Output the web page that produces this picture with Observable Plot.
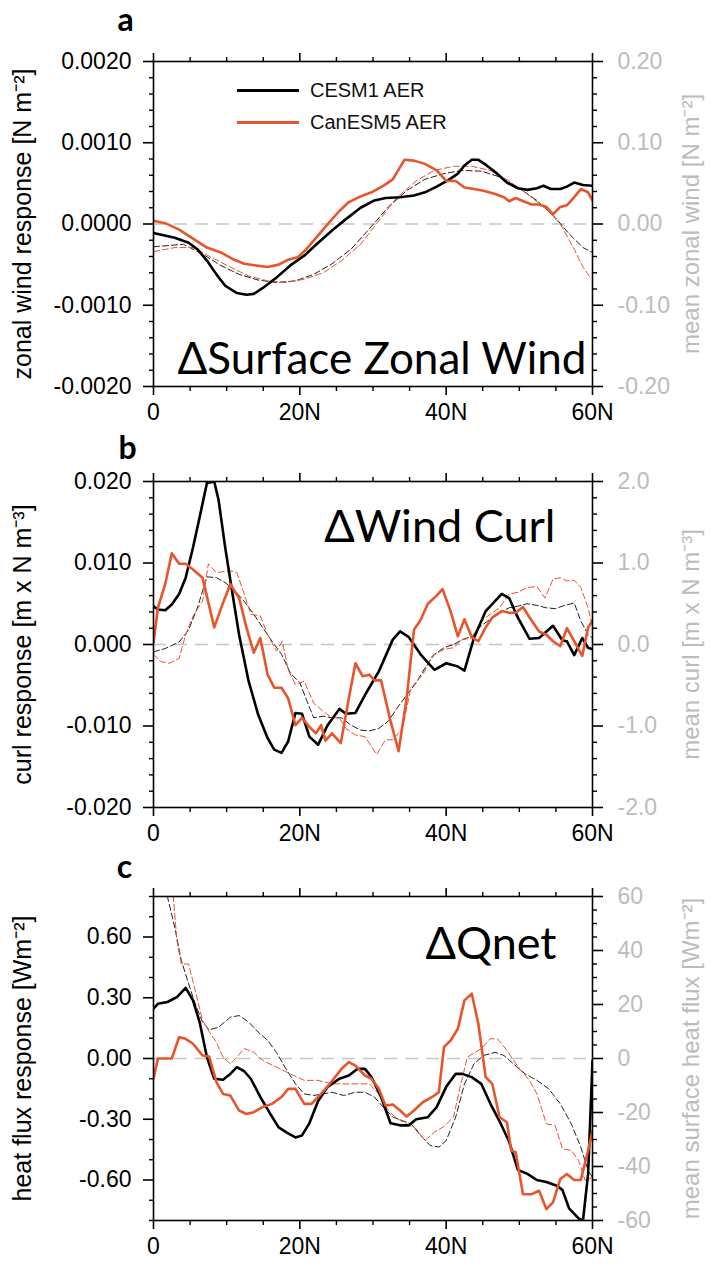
<!DOCTYPE html>
<html><head><meta charset="utf-8">
<script src="https://cdn.jsdelivr.net/npm/d3@7"></script>
<script src="https://cdn.jsdelivr.net/npm/@observablehq/plot@0.6"></script>
<style>
body{margin:0;background:#fff;}
#wrap{position:relative;width:718px;height:1267px;overflow:hidden;background:#fff;}
.panel{position:absolute;left:0;}
.leg{position:absolute;left:237px;font-family:"Liberation Sans",Arial,sans-serif;font-size:20px;color:#111;display:flex;align-items:center;}
.leg span.sw{display:inline-block;width:62px;height:3px;margin-right:11px;}
</style></head><body><div id="wrap"></div>
<script>
// ---------- Data (latitude in degrees N, value) ----------
// Panel a: zonal wind response [N m-2] (left axis) and mean zonal wind [N m-2] (right axis)
const windRespCESM = [[0,-0.00011],[2.9,-0.00017],[4.8,-0.00023],[6.0,-0.00031],[7.3,-0.00045],[8.6,-0.00062],[9.8,-0.00076],[11.4,-0.00085],[12.7,-0.00087],[13.7,-0.00086],[14.9,-0.00079],[16.8,-0.00066],[18.7,-0.00051],[20.6,-0.00039],[22.5,-0.00023],[24.4,-0.00008],[26.3,0.00006],[28.3,0.0002],[30.2,0.00029],[31.7,0.00032],[33.7,0.00033],[35.6,0.00035],[37.1,0.00039],[38.7,0.00046],[40.3,0.00054],[41.6,0.00062],[42.5,0.00072],[43.5,0.00079],[44.4,0.00079],[45.4,0.00073],[46.7,0.00064],[48.3,0.00051],[49.8,0.00044],[51.1,0.00042],[52.4,0.00044],[53.3,0.00047],[54.3,0.00043],[55.6,0.00043],[56.5,0.00046],[57.5,0.00051],[58.7,0.00048],[60,0.00047]];
const windRespCan = [[0,0.00004],[1.6,0.00001],[3.5,-0.00007],[5.4,-0.00018],[7.3,-0.00029],[9.2,-0.00035],[10.8,-0.00043],[12.4,-0.00049],[14.0,-0.00051],[15.6,-0.00053],[17.1,-0.0005],[18.4,-0.00044],[19.7,-0.00041],[20.9,-0.00031],[22.5,-0.00014],[24.1,0.00003],[25.4,0.00016],[26.7,0.00027],[28.3,0.00034],[29.8,0.00039],[31.4,0.00047],[32.7,0.00055],[34.3,0.00079],[35.6,0.00078],[37.1,0.00074],[38.7,0.00066],[40.0,0.00053],[41.3,0.00053],[42.5,0.00045],[43.8,0.00043],[45.1,0.00041],[46.7,0.00037],[47.9,0.00033],[48.6,0.00028],[49.5,0.00032],[50.8,0.00027],[51.7,0.00024],[52.7,0.00024],[53.7,0.00021],[54.6,0.00012],[55.6,0.00021],[56.5,0.00023],[57.5,0.00033],[58.4,0.00043],[59.4,0.00039],[60,0.00029]];
const windMeanCESM = [[0,-0.028],[4.1,-0.025],[6.7,-0.037],[9.2,-0.051],[11.7,-0.062],[14.3,-0.069],[16.8,-0.072],[19.4,-0.070],[21.9,-0.062],[24.4,-0.049],[27.0,-0.031],[29.5,-0.006],[32.1,0.021],[34.6,0.041],[37.1,0.055],[39.7,0.062],[42.2,0.066],[44.8,0.065],[47.3,0.058],[49.8,0.045],[52.4,0.029],[54.9,0.008],[56.8,-0.012],[58.7,-0.029],[60,-0.035]];
const windMeanCan = [[0,-0.034],[2.9,-0.029],[5.4,-0.029],[7.9,-0.041],[10.5,-0.053],[13.0,-0.064],[15.6,-0.070],[18.1,-0.072],[20.6,-0.068],[23.2,-0.060],[25.7,-0.045],[28.3,-0.025],[30.8,0.004],[33.3,0.033],[35.9,0.053],[38.4,0.066],[41.0,0.071],[43.5,0.071],[46.0,0.066],[48.6,0.053],[51.1,0.037],[53.7,0.018],[55.6,0.0],[57.5,-0.031],[58.7,-0.053],[59.7,-0.066]];

// Panel b: curl response [m x N m-3] (left) and mean curl (right)
const curlRespCESM = [[0,0.0047],[0.6,0.0043],[1.6,0.0042],[2.5,0.0049],[3.5,0.0062],[4.4,0.0082],[5.4,0.0119],[6.3,0.0156],[7.3,0.0198],[8.3,0.0200],[8.9,0.0177],[9.8,0.0119],[10.8,0.0062],[11.7,0.0012],[13.0,-0.0045],[14.3,-0.0086],[15.6,-0.0115],[16.5,-0.0129],[17.5,-0.0133],[18.4,-0.0119],[19.4,-0.0084],[20.3,-0.0085],[21.3,-0.0113],[22.5,-0.0123],[23.8,-0.0099],[25.4,-0.0079],[26.3,-0.0085],[27.6,-0.0084],[28.9,-0.0062],[30.8,-0.0033],[32.7,0.0006],[33.7,0.0016],[34.9,0.0009],[36.5,-0.0012],[38.4,-0.0031],[40.0,-0.0023],[41.6,-0.0027],[42.5,-0.0032],[43.8,0.0008],[45.4,0.0041],[47.6,0.0062],[48.6,0.0057],[49.8,0.0033],[51.4,0.0007],[52.7,0.0008],[54.6,0.0023],[55.9,0.0005],[56.5,0.0004],[57.5,-0.0013],[58.6,0.0008],[59.4,-0.0004],[60,-0.0006]];
const curlRespCan = [[0,0.0002],[0.6,0.0045],[1.6,0.0074],[2.5,0.0112],[3.5,0.0099],[4.4,0.0099],[5.4,0.0092],[6.7,0.0082],[8.3,0.0021],[9.5,0.0051],[10.5,0.0074],[11.7,0.0057],[12.7,0.0021],[13.7,-0.001],[14.6,0.0008],[15.6,-0.0037],[16.5,-0.0053],[17.5,-0.0053],[18.4,-0.0066],[19.4,-0.0099],[20.3,-0.009],[21.3,-0.0101],[22.2,-0.0109],[22.9,-0.0099],[23.5,-0.0118],[24.4,-0.0109],[25.6,-0.0121],[26.7,-0.0066],[27.6,-0.0023],[28.6,-0.0039],[29.5,-0.0037],[30.2,-0.0044],[31.1,-0.0044],[32.4,-0.0094],[33.5,-0.0131],[34.6,-0.0066],[35.6,0.0018],[36.5,0.003],[37.5,0.005],[38.7,0.006],[39.5,0.0068],[40.6,0.0041],[41.6,0.001],[42.5,0.0031],[43.5,0.0009],[44.4,0.0004],[45.4,0.0021],[46.3,0.0033],[47.6,0.0041],[48.6,0.0039],[49.5,0.0039],[50.5,0.0046],[51.4,0.0033],[52.7,0.0016],[53.7,0.0012],[54.6,0.0004],[55.6,-0.0002],[56.5,0.002],[57.5,0.0004],[58.6,-0.0014],[59.4,0.0021],[60,0.0029]];
const curlMeanCESM = [[0,-0.09],[1.6,-0.05],[3.5,0.03],[4.8,0.18],[6.0,0.45],[7.3,0.83],[8.6,0.82],[9.8,0.76],[11.1,0.66],[12.4,0.53],[13.7,0.37],[14.9,0.21],[16.2,0.04],[17.5,-0.12],[18.7,-0.35],[20.0,-0.47],[21.0,-0.70],[21.9,-0.90],[23.2,-0.88],[24.4,-0.90],[25.7,-0.90],[27.0,-0.99],[28.3,-1.05],[29.5,-1.06],[30.8,-1.03],[32.1,-0.94],[33.3,-0.78],[34.6,-0.62],[35.9,-0.47],[37.1,-0.29],[38.4,-0.12],[39.7,-0.04],[41.0,0.0],[42.2,0.06],[43.5,0.10],[44.8,0.23],[46.0,0.31],[47.3,0.39],[48.6,0.45],[49.8,0.47],[51.1,0.50],[52.4,0.48],[53.7,0.45],[54.9,0.44],[56.2,0.48],[57.5,0.51],[58.4,0.29],[59.4,0.12],[60,0.08]];
const curlMeanCan = [[0,-0.12],[1.0,-0.21],[2.2,-0.23],[3.5,-0.17],[4.4,0.12],[5.4,0.35],[6.7,0.53],[7.5,0.99],[8.6,0.88],[9.8,0.90],[10.8,0.90],[11.4,0.88],[12.4,0.62],[13.3,0.37],[14.6,0.35],[15.6,0.12],[16.8,-0.08],[17.6,0.04],[18.4,-0.31],[19.4,-0.49],[20.6,-0.45],[21.9,-0.72],[23.2,-0.82],[24.4,-0.90],[25.4,-0.90],[26.3,-1.03],[27.6,-1.11],[28.9,-1.13],[30.5,-1.35],[31.7,-1.17],[32.7,-1.17],[34.0,-1.03],[35.2,-0.53],[36.8,-0.37],[38.1,-0.14],[39.7,-0.06],[41.0,-0.04],[42.2,0.06],[43.5,0.08],[44.8,0.29],[46.0,0.37],[47.3,0.45],[48.6,0.62],[49.8,0.64],[51.1,0.70],[52.4,0.71],[53.5,0.57],[54.6,0.80],[55.6,0.82],[56.5,0.78],[57.5,0.79],[58.4,0.70],[59.4,0.45],[60,0.21]];

// Panel c: heat flux response [W m-2] (left) and mean surface heat flux [W m-2] (right)
const qRespCESM = [[0,0.246],[0.6,0.27],[1.9,0.279],[3.2,0.303],[4.4,0.349],[5.4,0.287],[6.3,0.18],[7.3,0.007],[8.3,-0.10],[9.5,-0.105],[10.5,-0.076],[11.4,-0.043],[12.4,-0.063],[13.3,-0.10],[14.6,-0.19],[15.9,-0.27],[17.1,-0.34],[18.4,-0.37],[19.4,-0.39],[20.3,-0.38],[21.3,-0.32],[22.5,-0.21],[23.8,-0.14],[25.4,-0.10],[26.7,-0.084],[27.9,-0.051],[28.9,-0.051],[29.8,-0.092],[31.1,-0.19],[32.4,-0.32],[33.7,-0.33],[34.9,-0.33],[35.9,-0.30],[37.5,-0.29],[38.7,-0.24],[40.0,-0.14],[41.3,-0.076],[42.2,-0.076],[43.5,-0.092],[44.8,-0.125],[46.0,-0.22],[47.3,-0.31],[48.6,-0.41],[49.8,-0.55],[51.1,-0.57],[52.4,-0.60],[53.7,-0.61],[55.2,-0.63],[55.9,-0.65],[56.8,-0.74],[58.1,-0.79],[58.7,-0.80],[59.4,-0.57],[60,-0.01]];
const qRespCan = [[0,-0.10],[0.6,0.0],[1.6,0.0],[2.5,0.0],[3.5,0.105],[4.4,0.097],[5.4,0.073],[6.7,0.015],[7.6,0.01],[8.6,-0.117],[9.5,-0.175],[10.5,-0.183],[11.7,-0.257],[12.7,-0.274],[13.7,-0.265],[14.9,-0.24],[16.2,-0.224],[17.5,-0.19],[18.4,-0.15],[19.4,-0.15],[20.6,-0.224],[21.6,-0.224],[22.9,-0.175],[24.1,-0.125],[25.7,-0.051],[26.7,-0.018],[27.6,-0.035],[28.9,-0.084],[29.8,-0.10],[30.8,-0.15],[31.7,-0.232],[32.7,-0.227],[33.7,-0.257],[34.6,-0.287],[35.6,-0.257],[36.8,-0.216],[38.1,-0.19],[39.0,-0.166],[39.7,0.056],[40.6,0.089],[41.6,0.147],[42.5,0.287],[43.5,0.32],[44.4,0.171],[45.4,-0.092],[46.3,-0.125],[47.3,-0.29],[48.3,-0.315],[48.9,-0.455],[49.5,-0.463],[50.5,-0.67],[51.7,-0.67],[52.7,-0.653],[53.7,-0.744],[54.6,-0.71],[55.6,-0.595],[56.5,-0.57],[57.5,-0.60],[58.4,-0.60],[59.4,-0.455],[60,-0.356]];
const qMeanCESM = [[0,100],[1.9,60],[2.9,48.6],[3.8,36.3],[4.8,27.7],[5.7,20.2],[6.7,13.5],[7.6,10.6],[8.9,11.6],[10.5,15.3],[11.7,15.9],[13.0,13.5],[14.3,9.8],[15.6,6.7],[16.8,2.3],[18.1,-3.8],[19.4,-9.4],[20.6,-13.1],[21.9,-13.7],[23.2,-13.1],[24.4,-12.5],[26.0,-13.7],[27.6,-12.5],[28.9,-12.5],[30.2,-14.3],[31.4,-18.0],[32.7,-21.7],[34.0,-23.0],[35.2,-24.2],[36.5,-28.5],[37.8,-32.2],[39.0,-32.8],[40.0,-30.4],[41.3,-21.7],[42.5,-9.4],[43.8,-2.0],[45.1,1.1],[46.7,2.3],[47.9,1.1],[49.2,-2.0],[50.8,-5.7],[52.4,-8.1],[54.0,-11.2],[55.6,-16.8],[57.1,-24.2],[58.4,-32.8],[59.4,-41.5],[60,-44]];
const qMeanCan = [[0,130],[2.7,60],[3.2,43.7],[3.8,35],[4.8,35],[5.7,25.2],[6.7,14.1],[7.6,10],[8.6,6],[9.5,0.5],[10.5,-2.0],[11.4,0.5],[12.4,3.7],[13.7,2.3],[14.9,-0.7],[16.8,-3.2],[18.7,-5.7],[20.6,-8.1],[22.5,-8.1],[24.4,-9.4],[26.3,-9.4],[28.3,-9.4],[29.5,-9.4],[30.8,-13.1],[32.1,-19.3],[33.3,-22.3],[34.6,-24.2],[35.9,-26.0],[37.1,-30.4],[38.4,-27.3],[39.7,-25.2],[41.0,-21.7],[41.9,-10.6],[42.9,0.5],[43.8,2.0],[44.8,3.6],[46.0,7.3],[47.0,7.3],[48.3,3.0],[49.2,-0.7],[50.2,-4.4],[51.4,-8.1],[52.4,-13.1],[53.7,-24.2],[54.9,-24.8],[55.9,-33.5],[57.1,-34],[58.1,-37.8],[59.0,-45.2],[60,-44]];

// Tick values
const xMajor = [0, 20, 40, 60];
const xMinor = [5, 10, 15, 25, 30, 35, 45, 50, 55];
const legendNames = ["CESM1 AER", "CanESM5 AER"];

const ORANGE = "#e8542c";
const GRAY = "#bcbcbc";
const FONT = "'Liberation Sans', Arial, Helvetica, sans-serif";
const CAL = "Lato, 'Open Sans', sans-serif";

function makePanel(c) {
  const f = c.factor;
  const lx = d => d[0], ly = d => d[1], lm = d => d[1] * f;
  const minorOf = (lo, hi, step, major) => d3.range(Math.round((hi - lo) / step) + 1).map(i => lo + i * step).filter(v => !major.some(m => Math.abs(m - v) < step / 10));
  return Plot.plot({
    width: 718, height: c.height,
    marginLeft: 153, marginRight: 126, marginTop: c.mt, marginBottom: c.mb,
    style: {fontFamily: FONT, background: "white", overflow: "visible"},
    x: {domain: [0, 60]},
    y: {domain: c.yDomain},
    marks: [
      Plot.ruleY([0], {stroke: "#c6c6c6", strokeWidth: 1.5, strokeDasharray: "13,8"}),
      Plot.line(c.meanCESM, {x: lx, y: lm, stroke: "#222", strokeWidth: 1, strokeDasharray: "6,3", clip: true}),
      Plot.line(c.meanCan, {x: lx, y: lm, stroke: ORANGE, strokeWidth: 1, strokeDasharray: "6,3", clip: true}),
      Plot.line(c.respCESM, {x: lx, y: ly, stroke: "black", strokeWidth: 2.6, clip: true}),
      Plot.line(c.respCan, {x: lx, y: ly, stroke: ORANGE, strokeWidth: 2.6, clip: true}),
      Plot.frame({stroke: "black", strokeWidth: 1.6}),
      Plot.axisX({anchor: "bottom", ticks: xMajor, tickSize: 9, tickPadding: 8, strokeWidth: 1.6, fontSize: 23, tickFormat: d => d === 0 ? "0" : d + "N", label: null}),
      Plot.axisX({anchor: "bottom", ticks: xMinor, tickSize: 5, strokeWidth: 1.4, tickFormat: () => "", label: null}),
      Plot.axisX({anchor: "top", ticks: xMajor, tickSize: 9, strokeWidth: 1.6, tickFormat: () => "", label: null}),
      Plot.axisX({anchor: "top", ticks: xMinor, tickSize: 5, strokeWidth: 1.4, tickFormat: () => "", label: null}),
      Plot.axisY({anchor: "left", ticks: c.leftTicks, tickSize: 10, tickPadding: 12, strokeWidth: 1.6, fontSize: 23, tickFormat: c.leftFormat, label: null}),
      Plot.axisY({anchor: "left", ticks: minorOf(c.yDomain[0], c.yDomain[1], c.leftStep, c.leftTicks), tickSize: 4, strokeWidth: 1.4, tickFormat: () => "", label: null}),
      Plot.axisY({anchor: "right", ticks: c.rightTicks.map(t => t * f), tickSize: 10, strokeWidth: 1.6, tickFormat: () => "", label: null}),
      Plot.axisY({anchor: "right", ticks: minorOf(c.rightDomain[0], c.rightDomain[1], c.rightStep, c.rightTicks).map(t => t * f), tickSize: 4, strokeWidth: 1.4, tickFormat: () => "", label: null}),
      Plot.axisY({anchor: "right", ticks: c.rightTicks.map(t => t * f), tickSize: 0, tickPadding: 25, fill: GRAY, stroke: "none", fontSize: 23,
        tickFormat: d => c.rightFormat(d / f), label: null}),
      Plot.text([c.leftLabel], {frameAnchor: "left", rotate: -90, dx: -131, textAnchor: "middle", lineAnchor: "middle", fontSize: 25, fill: "black", fontFamily: FONT}),
      Plot.text([c.rightLabel], {frameAnchor: "right", rotate: -90, dx: 99, textAnchor: "middle", lineAnchor: "middle", fontSize: 24, fill: GRAY, fontFamily: FONT}),
      Plot.text([c.letter], {frameAnchor: "top-left", dx: c.letterDx, dy: c.letterDy, textAnchor: "middle", lineAnchor: "bottom", fontSize: 32, fontWeight: "bold", fontFamily: CAL, fill: "black"}),
      Plot.text([c.title], {frameAnchor: c.titleAnchor, dx: c.titleDx, dy: c.titleDy, textAnchor: "end", lineAnchor: "bottom", fontSize: c.titleSize, fontFamily: CAL, fill: "black"})
    ]
  });
}

const r = (v, n) => { const x = Math.round(v * Math.pow(10, n)) / Math.pow(10, n); return (x === 0 ? 0 : x).toFixed(n); };

const panels = [
  {top: 0, height: 426, mt: 61, mb: 40, letter: "a", letterDx: -28, letterDy: -31,
   title: "ΔSurface Zonal Wind", titleAnchor: "bottom-right", titleDx: -6, titleDy: -13, titleSize: 44,
   yDomain: [-0.002, 0.002], leftTicks: [-0.002, -0.001, 0, 0.001, 0.002], leftStep: 0.0002, leftFormat: d => r(d, 4),
   rightDomain: [-0.2, 0.2], rightTicks: [-0.2, -0.1, 0, 0.1, 0.2], rightStep: 0.02, rightFormat: d => r(d, 2), factor: 0.01,
   leftLabel: "zonal wind response [N m⁻²]", rightLabel: "mean zonal wind [N m⁻²]",
   respCESM: windRespCESM, respCan: windRespCan, meanCESM: windMeanCESM, meanCan: windMeanCan},
  {top: 426, height: 421, mt: 55, mb: 40, letter: "b", letterDx: -26, letterDy: -23,
   title: "ΔWind Curl", titleAnchor: "top-right", titleDx: -37, titleDy: 60, titleSize: 45,
   yDomain: [-0.02, 0.02], leftTicks: [-0.02, -0.01, 0, 0.01, 0.02], leftStep: 0.002, leftFormat: d => r(d, 3),
   rightDomain: [-2, 2], rightTicks: [-2, -1, 0, 1, 2], rightStep: 0.2, rightFormat: d => r(d, 1), factor: 0.01,
   leftLabel: "curl response [m x N m⁻³]", rightLabel: "mean curl [m x N m⁻³]",
   respCESM: curlRespCESM, respCan: curlRespCan, meanCESM: curlMeanCESM, meanCan: curlMeanCan},
  {top: 847, height: 420, mt: 49, mb: 47, letter: "c", letterDx: -29, letterDy: -19,
   title: "ΔQnet", titleAnchor: "top-right", titleDx: -36, titleDy: 62, titleSize: 45,
   yDomain: [-0.8, 0.8], leftTicks: [-0.6, -0.3, 0, 0.3, 0.6], leftStep: 0.1, leftFormat: d => r(d, 2),
   rightDomain: [-60, 60], rightTicks: [-60, -40, -20, 0, 20, 40, 60], rightStep: 5, rightFormat: d => r(d, 0), factor: 0.8 / 60,
   leftLabel: "heat flux response [Wm⁻²]", rightLabel: "mean surface heat flux [Wm⁻²]",
   respCESM: qRespCESM, respCan: qRespCan, meanCESM: qMeanCESM, meanCan: qMeanCan}
];

const wrap = document.getElementById("wrap");
for (const p of panels) {
  const svg = makePanel(p);
  svg.classList.add("panel");
  svg.style.top = p.top + "px";
  svg.style.position = "absolute";
  wrap.appendChild(svg);
}
// Legend (panel a)
const legColors = ["black", ORANGE];
legendNames.forEach((name, i) => {
  const div = document.createElement("div");
  div.className = "leg";
  div.style.top = (90 + i * 32 - 11) + "px";
  div.style.height = "22px";
  div.innerHTML = `<span class="sw" style="background:${legColors[i]}"></span>${name}`;
  wrap.appendChild(div);
});
</script>
</body></html>
